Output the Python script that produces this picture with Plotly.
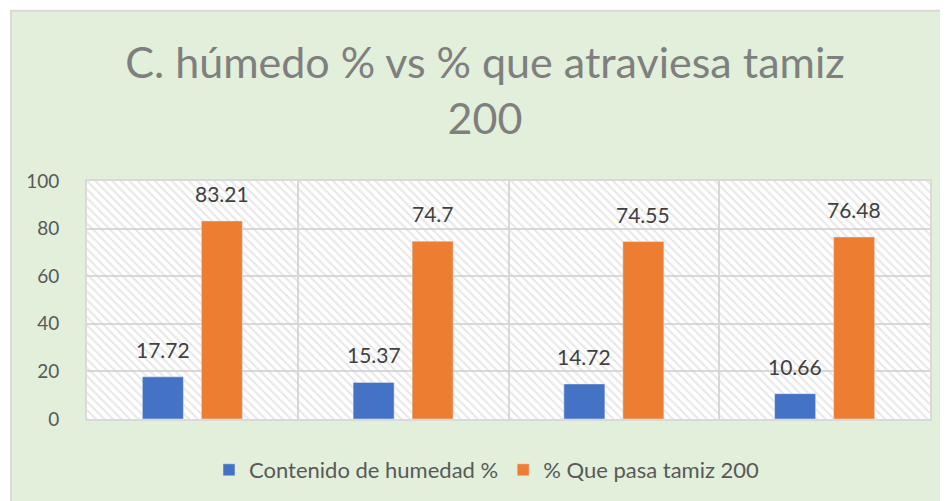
import plotly.graph_objects as go

# Data
categories = ["M1", "M2", "M3", "M4"]
humedad = [17.72, 15.37, 14.72, 10.66]
tamiz = [83.21, 74.7, 74.55, 76.48]
series_names = ["Contenido de humedad %", "% Que pasa tamiz 200"]
title_text = "C. húmedo % vs % que atraviesa tamiz<br>200"

# Layout geometry: the page body adds an 8px margin, so the figure is 8px smaller
OFF = 8
W, H = 948 - OFF, 501 - OFF
ML, MR, MT, MB = 87 - OFF, 18, 181 - OFF, 82
PW, PH = W - ML - MR, H - MT - MB


def px_x(sx):
    # screen x -> paper x
    return (sx - OFF - ML) / PW


def px_y(sy):
    # screen y -> paper y
    return (H - MB - (sy - OFF)) / PH


FONT = "Lato, Calibri, sans-serif"
GRID = "#D9D9D9"
GREEN = "#E2EFDA"

fig = go.Figure()

# hatched plot background (drawn on the main axis, beneath the data bars)
fig.add_trace(go.Bar(
    x=[0.5], y=[100], width=[1],
    xaxis="x", yaxis="y",
    marker=dict(color="rgba(0,0,0,0)", line=dict(width=0),
                pattern=dict(shape="\\", fgcolor="#D0D0D0", bgcolor="rgba(0,0,0,0)",
                             size=6, solidity=0.35)),
    hoverinfo="skip", showlegend=False,
))

fig.add_trace(go.Bar(x=categories, y=humedad, name=series_names[0],
                     marker_color="#4472C4", xaxis="x2", yaxis="y"))
fig.add_trace(go.Bar(x=categories, y=tamiz, name=series_names[1],
                     marker_color="#ED7D31", xaxis="x2", yaxis="y"))

# value labels
annotations = []
for vals, shift in [(humedad, -29.5), (tamiz, 29.5)]:
    for c, v in zip(categories, vals):
        annotations.append(dict(
            x=c, y=v, xref="x2", yref="y", text=f"{v:g}", showarrow=False,
            xshift=shift, yshift=13, yanchor="bottom",
            font=dict(family=FONT, size=21, color="#404040"),
        ))

shapes = [
    # white margin at left and top of the chart frame, then the grey frame line
    dict(type="rect", xref="paper", yref="paper", x0=px_x(0), x1=px_x(10),
         y0=px_y(510), y1=px_y(0), fillcolor="white", line_width=0, layer="above"),
    dict(type="rect", xref="paper", yref="paper", x0=px_x(0), x1=px_x(955),
         y0=px_y(10), y1=px_y(0), fillcolor="white", line_width=0, layer="above"),
    dict(type="line", xref="paper", yref="paper", x0=px_x(11), x1=px_x(11),
         y0=px_y(10.5), y1=px_y(510), line=dict(color=GRID, width=2)),
    dict(type="line", xref="paper", yref="paper", x0=px_x(10), x1=px_x(955),
         y0=px_y(10.8), y1=px_y(10.8), line=dict(color=GRID, width=2)),
]

fig.update_layout(
    width=W, height=H,
    margin=dict(l=ML, r=MR, t=MT, b=MB, autoexpand=False),
    paper_bgcolor=GREEN,
    plot_bgcolor="white",
    font=dict(family=FONT, color="#595959"),
    title=dict(text=title_text, xref="container", x=(485 - OFF) / W, xanchor="center",
               yref="container", y=1 - 70 / H, yanchor="top",
               font=dict(family=FONT, size=43, color="#7F7F7F")),
    barmode="group",
    bargap=0.44,
    bargroupgap=0.305,
    xaxis=dict(range=[0, 1], visible=False, fixedrange=True, automargin=False),
    xaxis2=dict(overlaying="x", type="category", showticklabels=False,
                range=[-0.5, 3.5], automargin=False,
                tickson="boundaries", showgrid=True, gridcolor=GRID, gridwidth=2,
                showline=True, linecolor=GRID, linewidth=2, mirror=True, ticks=""),
    yaxis=dict(range=[0, 100], dtick=20, showgrid=True, gridcolor=GRID, gridwidth=2,
               zeroline=False, showline=True, linecolor=GRID, linewidth=2, mirror=True,
               automargin=False,
               tickfont=dict(size=19, color="#595959"), ticklabelstandoff=22),
    legend=dict(orientation="h", x=px_x(487), xanchor="center", y=px_y(470),
                yanchor="middle", font=dict(size=22, color="#595959"),
                itemwidth=30, bgcolor="rgba(0,0,0,0)"),
    annotations=annotations,
    shapes=shapes,
)

fig.write_html("out.html")
